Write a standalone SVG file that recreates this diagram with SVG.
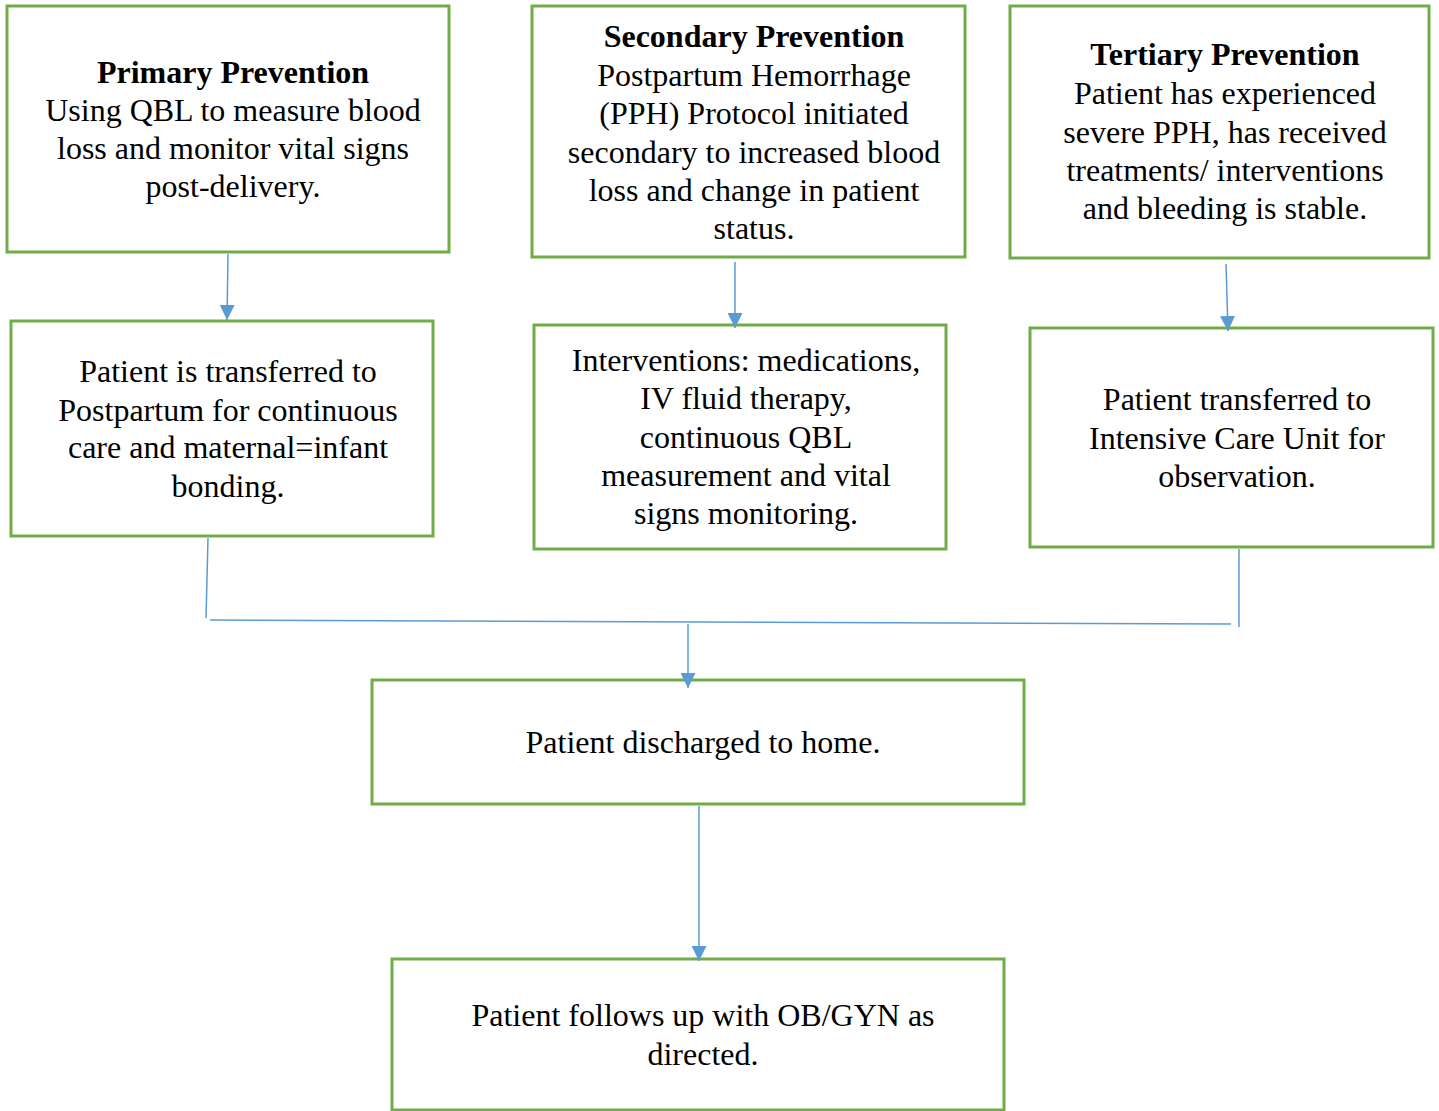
<svg xmlns="http://www.w3.org/2000/svg" width="1439" height="1111" viewBox="0 0 1439 1111">
<style>
.box{fill:#fff;stroke:#70AD47;stroke-width:3}
text{font-family:"Liberation Serif","Times New Roman",serif;font-size:32px;fill:#000;text-anchor:middle}
.b{font-weight:bold}
.c{fill:none;stroke:#5B9BD5;stroke-width:1.5}
</style>
<defs>
<marker id="arr" viewBox="0 0 15 15" refX="15" refY="7.5" markerWidth="15" markerHeight="15" markerUnits="userSpaceOnUse" orient="auto">
<path d="M0,0 L15,7.5 L0,15 z" fill="#5B9BD5"/>
</marker>
</defs>
<g id="primary">
<rect class="box" x="7" y="6" width="442" height="246"/>
<text x="233" y="83" class="b">Primary Prevention</text>
<text x="233" y="121">Using QBL to measure blood</text>
<text x="233" y="159">loss and monitor vital signs</text>
<text x="233" y="197">post-delivery.</text>
</g>
<g id="secondary">
<rect class="box" x="532" y="6" width="433" height="251"/>
<text x="754" y="47" class="b">Secondary Prevention</text>
<text x="754" y="86">Postpartum Hemorrhage</text>
<text x="754" y="124">(PPH) Protocol initiated</text>
<text x="754" y="163">secondary to increased blood</text>
<text x="754" y="201">loss and change in patient</text>
<text x="754" y="239">status.</text>
</g>
<g id="tertiary">
<rect class="box" x="1010" y="6" width="419" height="252"/>
<text x="1225" y="65" class="b">Tertiary Prevention</text>
<text x="1225" y="104">Patient has experienced</text>
<text x="1225" y="143">severe PPH, has received</text>
<text x="1225" y="181">treatments/ interventions</text>
<text x="1225" y="219">and bleeding is stable.</text>
</g>
<g id="postpartum">
<rect class="box" x="11" y="321" width="422" height="215"/>
<text x="228" y="382">Patient is transferred to</text>
<text x="228" y="421">Postpartum for continuous</text>
<text x="228" y="458">care and maternal=infant</text>
<text x="228" y="497">bonding.</text>
</g>
<g id="interventions">
<rect class="box" x="534" y="325" width="412" height="224"/>
<text x="746" y="371">Interventions: medications,</text>
<text x="746" y="409">IV fluid therapy,</text>
<text x="746" y="448">continuous QBL</text>
<text x="746" y="486">measurement and vital</text>
<text x="746" y="524">signs monitoring.</text>
</g>
<g id="icu">
<rect class="box" x="1030" y="328" width="403" height="219"/>
<text x="1237" y="410">Patient transferred to</text>
<text x="1237" y="449">Intensive Care Unit for</text>
<text x="1237" y="487">observation.</text>
</g>
<g id="discharge">
<rect class="box" x="372" y="680" width="652" height="124"/>
<text x="703" y="753">Patient discharged to home.</text>
</g>
<g id="followup">
<rect class="box" x="392" y="959" width="612" height="151"/>
<text x="703" y="1026">Patient follows up with OB/GYN as</text>
<text x="703" y="1065">directed.</text>
</g>
<g id="connectors">
<line class="c" x1="228" y1="254" x2="227" y2="320" marker-end="url(#arr)"/>
<line class="c" x1="735" y1="262" x2="735" y2="328" marker-end="url(#arr)"/>
<line class="c" x1="1226" y1="264" x2="1228" y2="331" marker-end="url(#arr)"/>
<line class="c" x1="208" y1="538" x2="206" y2="618"/>
<line class="c" x1="210" y1="620" x2="1231" y2="624"/>
<line class="c" x1="1239" y1="549" x2="1239" y2="627"/>
<line class="c" x1="688" y1="624" x2="688" y2="688" marker-end="url(#arr)"/>
<line class="c" x1="699" y1="806" x2="699" y2="961" marker-end="url(#arr)"/>
</g>
</svg>
